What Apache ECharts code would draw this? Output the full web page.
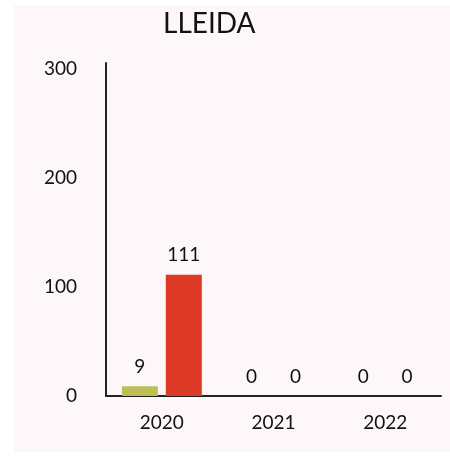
<!DOCTYPE html>
<html><head><meta charset="utf-8">
<script src="https://cdn.jsdelivr.net/npm/echarts@6/dist/echarts.min.js"></script>
<style>html,body{margin:0;padding:0;background:#fff}#c{width:450px;height:458px}</style>
</head><body><div id="c"></div>
<script>
const titleText = 'LLEIDA';
const categories = ['2020', '2021', '2022'];
const seriesGreen = [9, 0, 0];
const seriesRed = [111, 0, 0];
const yTicks = [0, 100, 200, 300];

const chart = echarts.init(document.getElementById('c'), null, {renderer: 'canvas'});
const font = 'Lato';
const labelCfg = {show: true, position: 'top', distance: 10, color: '#111', fontFamily: font, fontSize: 19};
chart.setOption({
  animation: false,
  graphic: [{type: 'rect', shape: {x: 14, y: 5, width: 436, height: 447}, style: {fill: '#fdf7f9'}, z: -10, silent: true}],
  title: {text: titleText, left: 158, top: 5, textStyle: {fontFamily: font, fontWeight: 'normal', fontSize: 28, color: '#111'}},
  grid: {left: 106, right: 9, top: 63, bottom: 62, containLabel: false},
  xAxis: {
    type: 'category', data: categories,
    axisLine: {lineStyle: {color: '#222', width: 2}},
    axisTick: {show: false},
    axisLabel: {fontFamily: font, fontSize: 19, color: '#111', margin: 17}
  },
  yAxis: {
    type: 'value', min: 0, max: 305, interval: 100,
    axisLine: {show: true, lineStyle: {color: '#222', width: 2}},
    axisTick: {show: false},
    splitLine: {show: false},
    axisLabel: {fontFamily: font, fontSize: 19, color: '#111', margin: 29,
      formatter: v => yTicks.includes(v) ? String(v) : ''}
  },
  series: [
    {type: 'bar', data: seriesGreen, barWidth: 36, barGap: '22%', itemStyle: {color: '#bbbf56'}, label: labelCfg},
    {type: 'bar', data: seriesRed, barWidth: 36, itemStyle: {color: '#dc3a27'}, label: labelCfg}
  ]
});
</script></body></html>
